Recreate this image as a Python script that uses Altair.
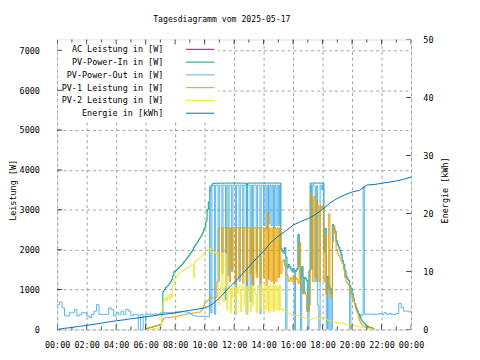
import altair as alt
import numpy as np
import pandas as pd

TITLE = "Tagesdiagramm vom 2025-05-17"
NAMES = ["AC Leistung in [W]", "PV-Power-In in [W]", "PV-Power-Out in [W]",
         "PV-1 Leistung in [W]", "PV-2 Leistung in [W]", "Energie in [kWh]"]
COLORS = ["#9400d3", "#009e73", "#56b4e9", "#e69f00", "#f0e442", "#0072b2"]

X_TICKS = list(range(0, 25, 2))
X_MINOR = list(range(1, 24, 2))
Y_TICKS = list(range(0, 7001, 1000))
Y2_TICKS = list(range(0, 51, 10))

# PV-Power-Out 00:00-05:50, every 10 min
OUT_AM = [620, 690, 540, 340, 340, 420, 420, 500, 340, 380, 420, 420,
          340, 300, 380, 460, 625, 380, 380, 380, 380, 540, 500, 340,
          420, 380, 460, 380, 500, 460, 340, 380, 380, 0, 380, 0]

# 06:00-21:30, every 5 min
OUT_DAY = [380, 380, 380, 390, 380, 380, 380, 390, 400, 380, 380, 390,
           420, 420, 430, 420, 420, 430, 420, 420, 420, 430, 420, 420,
           440, 440, 450, 440, 440, 440, 450, 440, 440, 440, 430, 420,
           390, 380, 360, 350, 340, 340, 330, 330, 330, 330, 340, 330,
           330, 330, 320, 330, 3580, 420, 3600, 3620, 380, 3620, 3620, 1200,
           3620, 3620, 1950, 3620, 3620, 740, 3620, 1360, 3620, 3620, 1450, 3620,
           3620, 380, 3620, 3620, 1200, 3620, 3620, 1450, 3620, 3620, 380, 3620,
           3620, 700, 3620, 1100, 3620, 3620, 1450, 3620, 3620, 400, 3620, 3620,
           2600, 3620, 2500, 3620, 2650, 3620, 2600, 3620, 2550, 3620, 2600, 3620,
           2600, 3620, 2000, 1940, 1900, 2000, 0, 1530, 1600, 1550, 1500, 1450,
           1500, 0, 1450, 1500, 2350, 1600, 0, 1550, 1300, 1280, 1250, 1200,
           0, 1450, 3630, 1500, 3630, 3600, 1200, 3600, 600, 0, 3620, 3500,
           3630, 1940, 2500, 0, 1300, 0, 1000, 0, 2600, 2500, 2440, 2200,
           2100, 2025, 1950, 1850, 1700, 1610, 1450, 1300, 1250, 1200, 0, 1000,
           870, 750, 620, 520, 450, 400, 380, 340, 380, 3590, 380, 390,
           380, 390, 380, 380, 390, 380, 380]

IN_DAY = [20, 30, 40, 50, 55, 60, 70, 80, 90, 100, 110, 115,
          120, 400, 950, 1000, 1050, 1080, 1100, 1150, 1200, 1250, 1350, 1450,
          1470, 1500, 1530, 1560, 1590, 1620, 1660, 1700, 1740, 1780, 1820, 1860,
          1900, 1950, 2000, 2060, 2110, 2150, 2200, 2250, 2300, 2350, 2420, 2500,
          2560, 2720, 3000, 3200, 3450, 3600, 3650, 3670, 3660, 3670, 3670, 3660,
          3670, 3670, 3670, 3670, 3670, 3670, 3670, 3670, 3670, 3670, 3670, 3670,
          3670, 3670, 3670, 3670, 3670, 3670, 3670, 3670, 3670, 3670, 410, 3670,
          3670, 3670, 3670, 3670, 3670, 3670, 3670, 3670, 3670, 3670, 3670, 3670,
          3670, 3670, 3670, 3670, 3670, 3670, 3670, 3670, 3670, 3670, 3670, 3670,
          3670, 3670, 2030, 1980, 1950, 2050, 1820, 1560, 1630, 1580, 1530, 1480,
          1530, 1450, 1480, 1530, 2380, 1630, 1300, 1580, 900, 1310, 1280, 1230,
          450, 1480, 3670, 3670, 3670, 3670, 3670, 3670, 3670, 3670, 3670, 3670,
          3670, 1970, 2530, 900, 1330, 1100, 1030, 900, 2630, 2530, 2470, 2230,
          2130, 2060, 1980, 1880, 1730, 1640, 1480, 1330, 1280, 1230, 1100, 1030,
          900, 780, 650, 550, 480, 400, 330, 260, 210, 170, 140, 110,
          90, 70, 60, 50, 40, 20, 0]

PV1_DAY = [10, 20, 30, 40, 50, 60, 70, 80, 90, 100, 100, 110,
           120, 200, 255, 290, 300, 300, 300, 300, 300, 310, 310, 320,
           320, 330, 340, 340, 350, 360, 370, 370, 380, 380, 390, 400,
           400, 410, 410, 420, 420, 420, 430, 430, 440, 480, 540, 600,
           670, 700, 720, 750, 790, 790, 800, 790, 800, 810, 1200, 2520,
           2550, 2550, 1400, 2550, 2550, 1100, 2550, 2550, 1200, 2550, 1500, 2550,
           2550, 1150, 2550, 2550, 1300, 2550, 2550, 1150, 2550, 2550, 1200, 2550,
           2550, 1400, 2550, 1100, 2550, 2550, 1300, 2550, 2550, 1150, 2550, 2550,
           1300, 2550, 1100, 2900, 1250, 2550, 1200, 2550, 1150, 2550, 1200, 2550,
           1300, 2550, 1400, 1700, 1750, 1600, 1400, 1350, 1200, 1250, 1300, 1200,
           1350, 1200, 1300, 1250, 1150, 2190, 1100, 1000, 900, 950, 870, 460,
           460, 600, 3420, 3300, 1200, 3340, 1300, 3200, 3100, 1200, 3100, 3000,
           3100, 1200, 2400, 870, 1000, 2900, 900, 800, 2200, 2600, 2400, 2000,
           1900, 1850, 1800, 1700, 1650, 1500, 1300, 1200, 1150, 1100, 1000, 900,
           790, 710, 625, 500, 420, 300, 215, 150, 120, 90, 75, 65,
           55, 50, 40, 30, 20, 10, 0]

PV2_DAY = [0, 0, 0, 0, 10, 10, 20, 20, 30, 30, 40, 40,
           60, 460, 670, 750, 800, 720, 850, 760, 900, 800, 1100, 1200,
           1280, 1320, 1370, 1400, 1430, 1450, 1480, 1500, 1510, 1530, 1550, 1570,
           1600, 1610, 1630, 1300, 1700, 1740, 1760, 1780, 1800, 1820, 1860, 1900,
           1940, 1970, 2000, 2010, 2040, 1950, 1930, 1900, 1950, 1900, 1950, 620,
           900, 1100, 1900, 700, 1050, 1900, 500, 1100, 1000, 420, 1050, 800,
           1100, 400, 1050, 900, 1120, 450, 1000, 1100, 600, 1080, 380, 1100,
           1000, 450, 1120, 600, 1050, 900, 420, 1100, 1050, 500, 1100, 950,
           450, 1120, 500, 1100, 420, 1120, 480, 1100, 450, 1120, 500, 1100,
           480, 1100, 500, 520, 480, 460, 440, 420, 420, 400, 380, 350,
           340, 350, 360, 350, 340, 330, 320, 300, 300, 290, 280, 270,
           260, 255, 250, 260, 270, 280, 290, 300, 290, 270, 280, 300,
           320, 300, 260, 250, 230, 220, 210, 200, 190, 180, 180, 175,
           175, 170, 170, 165, 160, 150, 140, 135, 130, 130, 125, 120,
           110, 100, 95, 90, 85, 80, 70, 60, 55, 50, 50, 40,
           30, 20, 10, 10, 5, 5, 0]

# PV-Power-Out 21:40-24:00, every 10 min
OUT_PM = [380, 400, 380, 420, 380, 400, 380, 380, 400, 650, 550, 460, 460, 440, 460]

# Energie [kWh], 00:00-24:00 every 30 min
ENERGY = [0, 0.2, 0.35, 0.55, 0.7, 0.9, 1.1, 1.3, 1.5, 1.65, 1.85, 2.0,
          2.2, 2.35, 2.55, 2.7, 2.85, 3.1, 3.3, 3.5, 3.7, 4.3, 5.4, 6.8,
          8.1, 9.4, 10.8, 12.2, 13.5, 15.0, 16.1, 17.0, 18.0, 18.6, 19.1, 19.8,
          20.7, 21.8, 22.6, 23.2, 23.7, 24.0, 24.9, 25.0, 25.2, 25.4, 25.6, 25.9,
          26.3]

FONT = "DejaVu Sans Mono"
FS = 8.6
GRID = "#a0a0a0"

t_am = np.arange(len(OUT_AM)) * 10 / 60
t_day = 6 + np.arange(len(OUT_DAY)) * 5 / 60
t_pm = 21.5 + (1 + np.arange(len(OUT_PM))) * 10 / 60
t_en = np.arange(len(ENERGY)) * 0.5

df_out = pd.DataFrame({"t": np.concatenate([t_am, t_day, t_pm]),
                       "v": OUT_AM + OUT_DAY + OUT_PM})
df_in = pd.DataFrame({"t": t_day, "v": IN_DAY})
df_pv1 = pd.DataFrame({"t": t_day, "v": PV1_DAY})
df_pv2 = pd.DataFrame({"t": t_day, "v": PV2_DAY})
df_en = pd.DataFrame({"t": t_en, "e": ENERGY})

x_scale = alt.Scale(domain=[0, 24], nice=False, zero=False)
x_axis = alt.Axis(values=X_TICKS, title=None, grid=True, gridColor=GRID,
                  gridDash=[3, 3], gridWidth=1, ticks=False, tickSize=0,
                  domain=False, labelPadding=11, labelFont=FONT,
                  labelFontSize=FS, labelColor="black", labelOverlap=False,
                  labelFlush=False,
                  labelExpr="(datum.value % 24 < 10 ? '0' : '') + (datum.value % 24) + ':00'")
x_enc = alt.X("t:Q", scale=x_scale, axis=x_axis)

y_axis = alt.Axis(values=Y_TICKS, format="d", title="Leistung [W]", grid=True,
                  gridColor=GRID, gridDash=[3, 3], gridWidth=1, ticks=False,
                  tickSize=0, domain=False, labelOverlap=False, labelFlush=False,
                  labelPadding=18, labelFont=FONT, labelFontSize=FS, labelColor="black",
                  titleFont=FONT, titleFontSize=FS, titleFontWeight="normal",
                  titleColor="black", titleAngle=270, titleX=-45.5, titleY=153,
                  titleAlign="center", titleBaseline="middle")
y_scale = alt.Scale(domain=[0, 7270], nice=False)

y2_scale = alt.Scale(domain=[0, 50], nice=False)
y2_axis = alt.Axis(orient="right", values=Y2_TICKS, format="d",
                   title="Energie [kWh]", labelOverlap=False, labelFlush=False,
                   grid=False, ticks=False, tickSize=0, domain=False,
                   labelPadding=12, labelFont=FONT, labelFontSize=FS,
                   labelColor="black", titleFont=FONT, titleFontSize=FS,
                   titleFontWeight="normal", titleColor="black",
                   titleAngle=270, titleX=34, titleY=153,
                   titleAlign="center", titleBaseline="middle")


def pline(df, color):
    return alt.Chart(df).mark_line(interpolate="step-after", strokeWidth=1,
                                   color=color, clip=True).encode(
        x=x_enc, y=alt.Y("v:Q", scale=y_scale, axis=y_axis))


# opaque key background (hides the grid behind the legend)
bg = alt.Chart(pd.DataFrame({"a": [1]})).mark_rect(color="white").encode(
    x=alt.value(1), x2=alt.value(164), y=alt.value(1), y2=alt.value(84))

# inward tick marks (gnuplot style), on all four borders
df_xmaj = pd.DataFrame({"t": X_TICKS})
df_xmin = pd.DataFrame({"t": X_MINOR})
df_ymaj = pd.DataFrame({"v": Y_TICKS})
df_y2maj = pd.DataFrame({"e": Y2_TICKS})


def xticks(df, size, ypix):
    return alt.Chart(df).mark_tick(orient="vertical", size=size, thickness=1,
                                   color="black", clip=True).encode(
        x=x_enc, y=alt.value(ypix))


left_ticks = alt.Chart(df_ymaj).mark_tick(orient="horizontal", size=10, thickness=1,
                                          color="black", clip=True).encode(
    y=alt.Y("v:Q", scale=y_scale, axis=y_axis), x=alt.value(0))

power = alt.layer(bg, pline(df_in, COLORS[1]), pline(df_out, COLORS[2]),
                  pline(df_pv1, COLORS[3]), pline(df_pv2, COLORS[4]), left_ticks,
                  xticks(df_xmaj, 10, 295), xticks(df_xmin, 6, 295),
                  xticks(df_xmaj, 10, 0), xticks(df_xmin, 6, 0))

energy_line = alt.Chart(df_en).mark_line(strokeWidth=1, color=COLORS[5], clip=True).encode(
    x=x_enc, y=alt.Y("e:Q", scale=y2_scale, axis=y2_axis))
right_ticks = alt.Chart(df_y2maj).mark_tick(orient="horizontal", size=10, thickness=1,
                                            color="black", clip=True).encode(
    y=alt.Y("e:Q", scale=y2_scale, axis=y2_axis), x=alt.value(360))
energy = alt.layer(energy_line, right_ticks)

leg_df = pd.DataFrame({"name": NAMES, "i": list(range(len(NAMES)))})

leg_text = alt.Chart(leg_df).mark_text(align="right", baseline="middle", font=FONT,
                                       fontSize=FS, color="black").transform_calculate(
    py="10 + 13 * datum.i").encode(
    x=alt.value(108), y=alt.Y("py:Q", scale=None, axis=None), text="name:N")

leg_line = alt.Chart(leg_df).mark_rule(strokeWidth=1).transform_calculate(
    py="10 + 13 * datum.i").encode(
    x=alt.value(131), x2=alt.value(160), y=alt.Y("py:Q", scale=None, axis=None),
    color=alt.Color("name:N", scale=alt.Scale(domain=NAMES, range=COLORS), legend=None))

chart = alt.layer(power, energy, leg_text, leg_line).resolve_scale(
    y="independent").properties(
    width=360, height=295,
    autosize=alt.AutoSizeParams(type="none"),
    padding={"left": 50, "top": 29, "right": 62, "bottom": 28},
    title=alt.TitleParams(TITLE, font=FONT, fontSize=8.3, fontWeight="normal",
                          anchor="middle", dx=-12.5, offset=5, baseline="alphabetic",
                          color="black"),
).configure_view(stroke="black", strokeWidth=1).configure(background="white")

chart.save("out.html", embed_options={"renderer": "svg", "actions": False})
